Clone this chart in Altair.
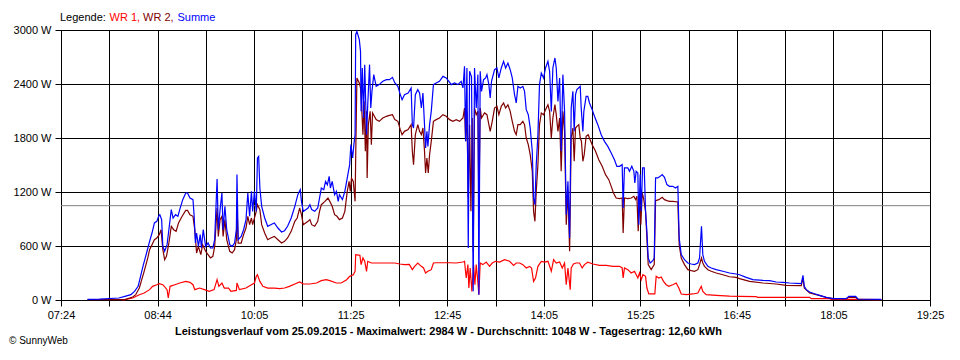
import altair as alt
import pandas as pd

# ---------------- data (minutes since midnight, watts) ----------------
sum_t = [466, 476, 492, 497, 502, 505, 508, 510, 512, 515, 517.5, 519.5, 521.5, 523.5, 525, 526, 527.5, 528.5, 530, 532,
         533.5, 535.5, 537, 539, 541, 542.5, 545, 547.5, 549, 551, 553.5, 554.5, 555.5, 556.5, 558, 559.5, 560.5, 562, 564, 566,
         568, 570, 571.5, 573.5, 574.5, 576, 577.5, 578.5, 580, 581.5, 584, 586, 588, 589.5, 590, 591, 593.5, 595.5, 597.5, 599,
         600.5, 602, 603, 604.5, 606, 607, 608, 609, 610.5, 613, 615.5, 618, 621, 624, 627, 629.5, 632, 635, 638, 640.5,
         642.5, 643.5, 645, 647, 649, 650.5, 652, 654.5, 657, 658.5, 660, 662, 663.5, 665, 666.5, 667.5, 669, 671, 672.5, 674,
         675, 677.5, 679.5, 681, 682, 683.5, 684.5, 686, 687, 688, 688.5, 689.5, 691.5, 692.5, 693, 694, 695, 696, 697.5, 698.5,
         700, 701, 702, 703.5, 705.5, 708, 711, 714, 716.5, 719, 721, 723.5, 725.5, 727, 729, 732, 734.5, 735.5, 736.5, 738,
         740, 741.5, 743, 744.3, 745.6, 746.5, 747.6, 748.4, 749.8, 751.2, 753, 755.3, 758, 760.9, 763.6, 765.8, 767.8, 770.5, 773.3, 776,
         777.5, 778.8, 779.7, 780.8, 781.9, 783, 784.6, 786, 787.1, 788.5, 789.9, 790.7, 791.8, 792.9, 794.6, 796.3, 797.4, 799, 800.1, 801.2,
         803.7, 805.7, 807.3, 809.3, 811.2, 812.9, 814.8, 816.7, 818.4, 820.3, 821.7, 823.1, 825, 827.2, 828.6, 830, 831.7, 833.3, 835, 836.1,
         837.2, 838.3, 839.7, 841, 842.5, 844.4, 846, 848, 849.4, 850.8, 852.1, 853.8, 854.9, 856.3, 857.7, 859, 860.4, 861.8, 863.2, 864.6,
         866, 867.3, 868.7, 869.8, 870.9, 872, 873.4, 874.8, 875.6, 877, 877.8, 879.7, 881.1, 882.5, 884.7, 886.6, 889.4, 892.2, 894.9, 897.7,
         900.5, 903.2, 905.2, 907.4, 909.6, 910.4, 911.5, 914.3, 915.7, 917.6, 919.3, 920.1, 921.2, 922.6, 923.4, 924.5, 925.4, 926.5, 927.9, 929,
         930.1, 931.2, 932.8, 935, 936.2, 937.3, 939.2, 941.1, 942.8, 944.7, 946.7, 948.9, 951.6, 953.9, 955.8, 956.9, 958.6, 961.3, 964.1, 966.9,
         969.6, 972.4, 973.8, 975.4, 976.5, 977.9, 980.7, 983.5, 987.6, 993.1, 998.7, 1004.2, 1007, 1012.5, 1018, 1026.4, 1031.9, 1037.4, 1043, 1048.5,
         1058.2, 1059.6, 1060.7, 1062.3, 1065.1, 1069.2, 1073.4, 1078.9, 1084.4, 1095.5, 1097.7, 1103.3, 1105.2, 1124.6]
sum_w = [8, 10, 22, 41, 59, 96, 152, 263, 374, 522, 652, 744, 856, 874, 930, 948, 893, 596, 541, 615,
         781, 1004, 911, 948, 930, 1004, 1115, 1189, 1189, 1133, 1115, 930, 633, 744, 596, 726, 578, 781, 596, 633,
         578, 578, 670, 1345, 781, 1004, 1189, 781, 1041, 781, 615, 596, 633, 781, 1393, 670, 707, 781, 893, 1189,
         930, 1207, 985, 1207, 985, 1578, 1596, 1244, 1041, 911, 819, 837, 856, 800, 756, 770, 819, 911, 1041, 1170,
         1226, 1096, 985, 1004, 1022, 1059, 1004, 985, 1022, 1133, 1244, 1226, 1318, 1280, 1374, 1244, 1318, 1170, 1207, 1096,
         1170, 1115, 1207, 1318, 1393, 1504, 1726, 1578, 1726, 1837, 2948, 2984, 2893, 2763, 2096, 2578, 2022, 2615, 1837, 2170,
         2615, 2133, 2318, 2504, 2374, 2393, 2430, 2448, 2448, 2474, 2411, 2374, 2282, 2226, 2282, 2300, 2356, 1948, 1911, 2282,
         2337, 2300, 2133, 2300, 1948, 1689, 1874, 1707, 1948, 2096, 2393, 2411, 2430, 2485, 2467, 2430, 2393, 2411, 2393, 2430,
         2356, 2596, 1763, 2578, 578, 2541, 2480, 96, 2578, 2133, 2504, 59, 2541, 2318, 2448, 2467, 2504, 2393, 2244, 2430,
         2559, 2578, 2467, 2578, 2652, 2578, 2633, 2559, 2467, 2282, 2189, 2374, 2356, 2374, 2318, 2115, 2059, 1911, 1652, 1133,
         1059, 1504, 1837, 2393, 2522, 2467, 2578, 2652, 2541, 2096, 2578, 2689, 2578, 2207, 2467, 1652, 2504, 2096, 948, 1318,
         689, 2133, 2318, 1874, 2282, 2337, 2356, 2374, 2133, 1874, 2096, 2263, 2263, 2189, 2115, 2041, 1948, 1837, 1763, 1707,
         1633, 1559, 1485, 1485, 1504, 1022, 1467, 1467, 1430, 1485, 1430, 1300, 1430, 1411, 837, 1393, 985, 1467, 1467, 985,
         763, 467, 411, 437, 467, 1356, 1356, 1374, 1393, 1363, 1282, 1263, 1263, 1244, 1263, 689, 504, 448, 411, 400,
         393, 411, 467, 819, 504, 430, 374, 356, 337, 319, 300, 289, 281, 252, 226, 218, 215, 200, 196, 189,
         181, 274, 152, 115, 89, 70, 52, 30, 15, 15, 41, 41, 11, 7]

wr2_t = [466, 497, 503.5, 506, 509, 511, 513, 516, 517.5, 519.5, 521.5, 523.5, 525.5, 527, 528.5, 530, 531.5, 533.5, 535.5, 537.5,
         539.5, 541.5, 544.5, 547.5, 549, 551, 553.5, 555, 556.5, 558, 560, 561.5, 564, 566, 568, 570, 571.5, 573.5, 574.5, 576,
         577.5, 578.5, 580, 581.5, 584, 586, 588, 589.5, 590, 591, 593.5, 595.5, 597.5, 599, 600.5, 602, 603, 606, 607, 609,
         610.5, 613, 615.5, 618, 621, 624, 627, 629.5, 632, 635, 638, 640, 642, 643.5, 645, 647, 649, 650.5, 652, 654.5,
         657, 658.5, 660, 663, 665.5, 667, 669, 671, 673, 675, 677.5, 679.5, 681.5, 683, 684, 685, 686.5, 688, 688.5, 689.5,
         691.5, 692.5, 693.5, 694.5, 695.5, 696.5, 697.5, 698, 699, 700.5, 701.5, 702.5, 705.5, 708, 711, 714, 716.5, 719, 721, 723.5,
         725.5, 727, 729, 732, 734.5, 735.5, 736.5, 738, 740, 741.5, 743, 744.3, 745.6, 746.5, 747.6, 748.7, 749.8, 751.2, 753, 755.3,
         758, 760.9, 763.6, 766.4, 769.2, 771.9, 774.7, 777.5, 778.8, 779.7, 780.8, 781.9, 783, 784.1, 785.2, 786, 787.1, 788.5, 789.9, 790.7,
         791.8, 792.9, 795.4, 797.4, 799, 800.1, 801.8, 803.7, 805.7, 807.3, 809.3, 811.2, 812.9, 814.8, 816.7, 818.4, 820.3, 821.7, 823.1, 825,
         827.2, 828.6, 830, 831.7, 833.3, 835, 836.1, 837.2, 838.3, 839.7, 841, 842.5, 844.4, 846, 848, 849.4, 850.8, 852.1, 853.8, 854.9,
         856.3, 857.7, 859, 860.4, 861.8, 863.2, 864.6, 866, 867.3, 868.7, 869.8, 870.9, 872, 873.6, 874.8, 875.8, 877, 878.1, 879.7, 881.4,
         883, 884.7, 887.5, 890.2, 893, 895.8, 898.5, 900.5, 902.4, 904.6, 907.4, 909.6, 910.4, 911.5, 914.3, 917.1, 919.3, 920.7, 921.8, 922.9,
         924, 925.1, 926.2, 927.3, 929, 930.1, 931.2, 933.7, 936.2, 937.3, 940, 942.8, 944.7, 946.7, 948.9, 951.6, 955.8, 956.9, 958.6, 961.3,
         964.1, 966.9, 969.6, 972.4, 973.8, 975.4, 976.5, 977.9, 980.7, 983.5, 987.6, 993.1, 998.7, 1004.2, 1007, 1015.3, 1026.4, 1037.4, 1045.7, 1058.2,
         1059.6, 1060.7, 1065.1, 1070.6, 1078.9, 1084.4, 1095.5, 1097.7, 1103.3, 1105.2, 1124.6]
wr2_w = [5, 4, 33, 59, 133, 226, 318, 467, 559, 615, 670, 689, 726, 781, 559, 448, 485, 633, 819, 781,
         763, 856, 930, 996, 996, 948, 930, 781, 522, 596, 504, 615, 541, 504, 467, 485, 596, 1022, 707, 893,
         930, 707, 893, 670, 541, 522, 559, 670, 1078, 633, 633, 726, 800, 930, 837, 911, 837, 985, 1059, 1004,
         837, 744, 670, 689, 707, 670, 633, 652, 689, 763, 874, 911, 1022, 948, 837, 856, 874, 893, 837, 819,
         874, 985, 1059, 1096, 1133, 1096, 1041, 948, 930, 893, 911, 985, 1207, 1318, 1207, 1355, 1318, 1096, 1578, 2467,
         2411, 2356, 2133, 1837, 2207, 1652, 2096, 1356, 1948, 2096, 1726, 2078, 2004, 1985, 2022, 2041, 2052, 2059, 2004, 1985,
         1893, 1837, 1874, 1893, 1948, 1652, 1504, 1837, 1948, 1874, 1837, 1911, 1652, 1411, 1578, 1411, 1615, 1763, 1985, 2004,
         2022, 2059, 2041, 2004, 1985, 2004, 1985, 2022, 2133, 1763, 2096, 1133, 1948, 985, 2022, 541, 2133, 2059, 2096, 985,
         2133, 2022, 2078, 2059, 1948, 1874, 1985, 2133, 2152, 2059, 2152, 2189, 2133, 2170, 2096, 1985, 1874, 1837, 1948, 1948,
         1985, 1948, 1800, 1726, 1615, 1430, 985, 874, 1207, 1504, 1948, 2078, 2059, 2115, 2170, 2096, 1800, 2022, 2170, 2059,
         1874, 2022, 1430, 2096, 1874, 837, 1207, 541, 1800, 1911, 1541, 1911, 1930, 1948, 1800, 1763, 1541, 1615, 1819, 1837,
         1781, 1726, 1652, 1559, 1485, 1393, 1337, 1263, 1189, 1133, 1126, 1133, 744, 1133, 1126, 1133, 1152, 1115, 1152, 763,
         1133, 837, 1189, 1133, 985, 689, 393, 337, 393, 1104, 1115, 1141, 1115, 1104, 1096, 1096, 1089, 615, 467, 393,
         337, 326, 319, 337, 393, 467, 411, 374, 337, 319, 300, 281, 258, 252, 237, 207, 189, 178, 163, 159,
         244, 133, 78, 59, 30, 15, 15, 30, 30, 7, 4]

wr1_t = [495, 497, 503.5, 509, 513, 517.5, 520, 523.5, 525.5, 528.5, 532, 533, 534.5, 538.5, 542.5, 547.5, 551, 553.5, 555, 559,
         563, 567, 571, 573.5, 575, 577.5, 579.5, 583, 585, 589.5, 590, 592, 597.5, 602, 604.5, 606, 607, 609, 611.5, 615.5,
         621, 625.5, 629.5, 633.5, 638, 642, 645, 650.5, 656, 660, 664, 667, 672.5, 676.5, 681, 683.5, 686.5, 688, 688.5, 692,
         693, 694.5, 696, 697.5, 698.5, 701.5, 705.5, 711, 716.5, 721, 725, 729, 733, 735.5, 737.4, 740, 743, 744.8, 746.5, 748.4,
         751.2, 753, 755.3, 766.4, 771.9, 777.5, 778.8, 780.2, 781.6, 782.4, 783.5, 784.9, 786.3, 787.4, 788.5, 789.6, 790.7, 791.8, 794, 796.8,
         799.6, 801.8, 804.6, 807.9, 812, 816.2, 819.5, 821.7, 824.5, 827.2, 830, 832.8, 834.4, 836.1, 837.7, 839.7, 842.5, 845.2, 848, 850.8,
         852.7, 854.9, 857.7, 859.9, 861.8, 863.2, 864.6, 866.5, 867.3, 869.2, 871.4, 874.2, 876.4, 878.3, 881.1, 885.3, 890.8, 896.3, 901.9, 907.4,
         909.6, 910.4, 911.5, 914.3, 917.1, 919.8, 922.6, 924, 925.4, 926.8, 929, 930.1, 931.7, 936.7, 937.8, 940, 942, 943.9, 946.1, 948.3,
         951.6, 954.4, 956.6, 958.6, 962.7, 968.2, 972.4, 975.2, 976.5, 979.3, 987.6, 998.7, 1007, 1020.8, 1022, 1065.1, 1066.5, 1081.7, 1083, 1103,
         1124.6]
wr1_w = [0, 5, 22, 59, 78, 115, 152, 170, 181, 170, 115, 22, 152, 170, 189, 207, 196, 170, 115, 133,
         115, 96, 115, 226, 152, 189, 133, 133, 96, 107, 189, 115, 133, 170, 189, 263, 281, 207, 152, 133,
         133, 126, 133, 152, 178, 200, 178, 178, 189, 215, 226, 215, 189, 189, 226, 263, 281, 318, 504, 496,
         393, 467, 430, 318, 430, 411, 411, 411, 411, 411, 400, 393, 395, 337, 374, 411, 374, 356, 300, 319,
         337, 411, 414, 414, 411, 422, 430, 244, 393, 133, 356, 96, 393, 170, 393, 244, 59, 411, 393, 422,
         374, 411, 430, 422, 448, 430, 385, 411, 411, 393, 356, 374, 356, 207, 244, 374, 430, 422, 430, 319,
         448, 411, 422, 356, 411, 170, 356, 115, 356, 400, 411, 411, 356, 393, 419, 400, 385, 385, 374, 374,
         356, 244, 356, 337, 300, 319, 244, 300, 226, 281, 263, 133, 67, 67, 263, 244, 255, 207, 170, 152,
         170, 189, 133, 67, 59, 67, 78, 152, 96, 59, 52, 44, 41, 37, 30, 30, 15, 15, 7, 7,
         4]

series_names = ["WR 1", "WR 2", "Summe"]
series_colors = ["#ff0000", "#800000", "#0000ff"]
average_w = 1048

y_ticks = [0, 600, 1200, 1800, 2400, 3000]
x_tick_labels = ["07:24", "08:44", "10:05", "11:25", "12:45", "14:05", "15:25", "16:45", "18:05", "19:25"]
x_start, x_end = 444, 1165  # 07:24 .. 19:25 in minutes

title_text = ("Leistungsverlauf vom 25.09.2015 - Maximalwert: 2984 W - "
              "Durchschnitt: 1048 W - Tagesertrag: 12,60 kWh")

# ---------------- build table ----------------
frames = []
for name, ts, ws in [("WR 1", wr1_t, wr1_w), ("WR 2", wr2_t, wr2_w), ("Summe", sum_t, sum_w)]:
    frames.append(pd.DataFrame({"t": ts, "w": ws, "s": name}))
df = pd.concat(frames, ignore_index=True)

n_int = 2 * (len(x_tick_labels) - 1)
step = (x_end - x_start) / n_int
x_ticks = [x_start + k * step for k in range(n_int + 1)]
full_labels = []
for k in range(n_int + 1):
    full_labels.append(x_tick_labels[k // 2] if k % 2 == 0 else "")
label_expr = "[" + ",".join("'%s'" % s for s in full_labels) + "][round((datum.value-%d)/%.6f)]" % (x_start, step)

FONT = "Liberation Sans"

x_enc = alt.X("t:Q",
              scale=alt.Scale(domain=[x_start, x_end], nice=False, zero=False),
              axis=alt.Axis(values=x_ticks, labelExpr=label_expr, title=None, grid=True,
                            gridColor="black", gridOpacity=1, gridWidth=1,
                            tickSize=6, tickColor="black", domainColor="black",
                            labelFont=FONT, labelFontSize=11, labelColor="black",
                            labelPadding=3, labelFlush=False, labelOverlap=False))
y_enc = alt.Y("w:Q",
              scale=alt.Scale(domain=[0, 3000], nice=False),
              axis=alt.Axis(values=y_ticks, labelExpr="datum.value + ' W'", title=None, grid=True,
                            gridColor="black", gridOpacity=1, gridWidth=1,
                            tickSize=6, tickColor="black", domainColor="black",
                            labelFont=FONT, labelFontSize=11, labelColor="black",
                            labelPadding=4, labelFlush=False, labelOverlap=False))

one = pd.DataFrame({"a": [0]})

avg_rule = alt.Chart(pd.DataFrame({"w": [average_w]})).mark_rule(color="#808080", strokeWidth=1).encode(y=y_enc)

line_layers = []
for name, col in zip(series_names, series_colors):
    line_layers.append(
        alt.Chart(df).transform_filter(alt.datum.s == name)
        .mark_line(color=col, strokeWidth=1.2, interpolate="linear")
        .encode(x=x_enc, y=y_enc)
    )

def txt(text, x, y, color="black", size=11, weight="normal", align="left"):
    return alt.Chart(one).mark_text(text=text, color=color, font=FONT, fontSize=size,
                                    fontWeight=weight, align=align, baseline="alphabetic").encode(
        x=alt.value(x), y=alt.value(y))

texts = [
    txt("Legende:", -1, -9.5),
    txt("WR 1,", 48.5, -9.5, color=series_colors[0]),
    txt("WR 2,", 82, -9.5, color=series_colors[1]),
    txt("Summe", 116.5, -9.5, color=series_colors[2]),
    txt(title_text, 114, 304.5, weight="bold"),
    txt("\u00a9 SunnyWeb", -52, 313.5, size=10),
]

chart = alt.layer(avg_rule, *line_layers, *texts).properties(
    width=869, height=270,
    padding={"left": 53, "top": 22, "right": 22, "bottom": 52},
    autosize=alt.AutoSizeParams(type="none"),
    background="white",
).configure_view(stroke="black", strokeWidth=1)

chart.save("out.html", embed_options={"renderer": "svg", "actions": False})
